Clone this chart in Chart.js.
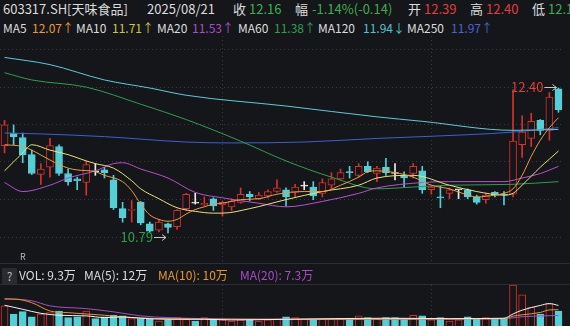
<!DOCTYPE html>
<html lang="zh-CN">
<head>
<meta charset="utf-8">
<title>603317.SH 天味食品 日K</title>
<script src="https://cdn.jsdelivr.net/npm/chart.js@4.4.1/dist/chart.umd.min.js"></script>
<style>
  html, body { margin: 0; padding: 0; background: #15161a; }
  body { width: 570px; height: 326px; overflow: hidden; position: relative;
         font-family: "Noto Sans CJK SC", "Noto Sans", sans-serif; color: #dcdcdc; }
  .t { position: absolute; white-space: nowrap; line-height: 16px; }
  .r1 { top: 1px; font-size: 13px; }
  .r2 { top: 20px; font-size: 12px; }
  .r3 { top: 267px; font-size: 12px; }
  .sep { position: absolute; left: 0; width: 570px; height: 1px; background: #2d2e33; }
  #help { position: absolute; left: 2px; top: 268px; width: 15px; height: 16px; background: #2a2b30;
          color: #b8b8b8; font-size: 12px; line-height: 16px; text-align: center; }
  #rMark { position: absolute; left: 20px; top: 252px; font-size: 9px; color: #b8b8b8; line-height: 10px; }
  canvas { position: absolute; left: 0; }
  #kCanvas { top: 36px; }
  #volCanvas { top: 285px; }
</style>
</head>
<body>
  <!-- 行情头部 -->
  <span class="t r1" style="left:3px">603317.SH[天味食品]</span>
  <span class="t r1" style="left:147px">2025/08/21</span>
  <span class="t r1" style="left:233px">收</span>
  <span class="t r1" style="left:249px;color:#35b24f">12.16</span>
  <span class="t r1" style="left:295px">幅</span>
  <span class="t r1" style="left:312px;color:#35b24f">-1.14%(-0.14)</span>
  <span class="t r1" style="left:408px">开</span>
  <span class="t r1" style="left:424px;color:#e23d3d">12.39</span>
  <span class="t r1" style="left:470px">高</span>
  <span class="t r1" style="left:486px;color:#e23d3d">12.40</span>
  <span class="t r1" style="left:532px">低</span>
  <span class="t r1" style="left:548px;color:#35b24f">12.13</span>

  <!-- 均线图例 -->
  <span class="t r2" style="left:3px">MA5</span>
  <span class="t r2" style="left:32px;color:#e99a36">12.07↑</span>
  <span class="t r2" style="left:76px">MA10</span>
  <span class="t r2" style="left:112px;color:#cfc640">11.71↑</span>
  <span class="t r2" style="left:157px">MA20</span>
  <span class="t r2" style="left:192px;color:#a850c4">11.53↑</span>
  <span class="t r2" style="left:238px">MA60</span>
  <span class="t r2" style="left:274px;color:#2fa04a">11.38↑</span>
  <span class="t r2" style="left:318px">MA120</span>
  <span class="t r2" style="left:363px;color:#4fc3cc">11.94↓</span>
  <span class="t r2" style="left:407px">MA250</span>
  <span class="t r2" style="left:451px;color:#4a64d0">11.97↑</span>

  <canvas id="kCanvas" width="570" height="227"></canvas>
  <div id="rMark">R</div>
  <div class="sep" style="top:263px"></div>

  <!-- 成交量图例 -->
  <div id="help">?</div>
  <span class="t r3" style="left:19px">VOL: 9.3万</span>
  <span class="t r3" style="left:84px">MA(5): 12万</span>
  <span class="t r3" style="left:158px;color:#e8962e">MA(10): 10万</span>
  <span class="t r3" style="left:240px;color:#a84cc8">MA(20): 7.3万</span>
  <div class="sep" style="top:284px"></div>

  <canvas id="volCanvas" width="570" height="46"></canvas>

<script>
// 交易日
const dates = [
  '05/27', '05/28', '05/29', '05/30',
  '06/03', '06/04', '06/05', '06/06', '06/09', '06/10', '06/11', '06/12', '06/13',
  '06/16', '06/17', '06/18', '06/19', '06/20', '06/23', '06/24', '06/25', '06/26', '06/27', '06/30',
  '07/01', '07/02', '07/03', '07/04', '07/07', '07/08', '07/09', '07/10', '07/11',
  '07/14', '07/15', '07/16', '07/17', '07/18', '07/21', '07/22', '07/23', '07/24', '07/25',
  '07/28', '07/29', '07/30', '07/31',
  '08/01', '08/04', '08/05', '08/06', '08/07', '08/08', '08/11', '08/12', '08/13', '08/14', '08/15',
  '08/18', '08/19', '08/20', '08/21'
];

// K线 开高低收
const opens = [
  11.76, 11.90, 11.85, 11.66, 11.44, 11.52, 11.75, 11.45, 11.39, 11.35,
  11.47, 11.49, 11.38, 11.06, 11.04, 11.13, 10.89, 10.82, 10.89, 10.86,
  11.06, 11.12, 11.10, 11.17, 11.10, 11.08, 11.13, 11.22, 11.17, 11.20,
  11.25, 11.27, 11.24, 11.31, 11.30, 11.23, 11.32, 11.39, 11.47, 11.43,
  11.53, 11.45, 11.52, 11.45, 11.43, 11.45, 11.48, 11.27, 11.19, 11.23,
  11.27, 11.27, 11.19, 11.16, 11.24, 11.22, 11.22, 11.77, 11.84, 12.04,
  11.93, 12.39
];
const highs = [
  12.04, 11.99, 11.90, 11.71, 11.56, 11.84, 11.77, 11.50, 11.41, 11.59,
  11.56, 11.52, 11.43, 11.13, 11.15, 11.14, 10.91, 10.94, 10.90, 11.05,
  11.23, 11.23, 11.19, 11.18, 11.14, 11.17, 11.29, 11.25, 11.24, 11.27,
  11.38, 11.29, 11.33, 11.36, 11.36, 11.39, 11.46, 11.50, 11.53, 11.56,
  11.58, 11.53, 11.62, 11.56, 11.47, 11.56, 11.53, 11.31, 11.31, 11.29,
  11.27, 11.28, 11.21, 11.23, 11.25, 11.25, 12.38, 12.09, 12.12, 12.05,
  12.35, 12.40
];
const lows = [
  11.68, 11.77, 11.57, 11.44, 11.33, 11.41, 11.43, 11.32, 11.27, 11.21,
  11.43, 11.40, 11.05, 10.91, 10.91, 10.88, 10.80, 10.80, 10.79, 10.83,
  11.04, 11.11, 11.09, 11.04, 10.98, 11.04, 11.12, 11.15, 11.16, 11.18,
  11.24, 11.09, 11.19, 11.27, 11.16, 11.19, 11.28, 11.38, 11.40, 11.41,
  11.46, 11.36, 11.43, 11.38, 11.30, 11.40, 11.23, 11.22, 11.07, 11.17,
  11.17, 11.17, 11.11, 11.12, 11.19, 11.10, 11.19, 11.63, 11.75, 11.88,
  11.82, 12.13
];
const closes = [
  11.99, 11.86, 11.66, 11.45, 11.50, 11.76, 11.45, 11.36, 11.37, 11.55,
  11.47, 11.46, 11.07, 10.96, 11.05, 10.90, 10.81, 10.91, 10.85, 11.04,
  11.22, 11.12, 11.12, 11.09, 11.13, 11.14, 11.22, 11.19, 11.21, 11.25,
  11.29, 11.19, 11.30, 11.31, 11.20, 11.35, 11.39, 11.46, 11.46, 11.53,
  11.47, 11.51, 11.46, 11.45, 11.40, 11.53, 11.27, 11.30, 11.18, 11.27,
  11.27, 11.19, 11.13, 11.21, 11.21, 11.21, 11.81, 11.91, 12.03, 11.93,
  12.30, 12.16
];

// 成交量（万手）
const volumes = [
  11.8, 7.9, 9.1, 6.6, 7.9, 8.6, 9.4, 6.3, 6.6, 9.4,
  5.8, 6.6, 7.5, 7.1, 5.8, 5.8, 5.8, 4.7, 5.2, 6.3,
  5.5, 4.7, 6.3, 5.2, 5.2, 4.7, 5.2, 5.2, 4.7, 5.2,
  5.5, 6.6, 6.3, 5.5, 5.5, 5.5, 5.5, 5.5, 5.5, 7.1,
  6.3, 5.5, 6.3, 6.3, 5.8, 7.4, 7.1, 5.2, 6.3, 4.7,
  5.2, 6.6, 5.5, 6.3, 5.5, 5.5, 21.6, 17.0, 11.2, 8.0,
  12.8, 9.3
];

// 均线读数 [交易日序号, 值]
const ma5Pts = [[0, 11.77], [2, 11.75], [3, 11.71], [5, 11.60], [7, 11.51], [8, 11.49], [10, 11.47],
  [11, 11.43], [13, 11.36], [14, 11.26], [15, 11.11], [16, 10.99], [17, 10.94], [18, 10.92],
  [19, 10.94], [20, 11.00], [21, 11.05], [22, 11.08], [23, 11.11], [24, 11.12], [26, 11.16],
  [28, 11.17], [30, 11.22], [33, 11.25], [35, 11.25], [37, 11.32], [39, 11.41], [40, 11.47],
  [41, 11.48], [43, 11.46], [45, 11.41], [47, 11.32], [49, 11.28], [51, 11.21], [52, 11.19],
  [54, 11.21], [55, 11.23], [56, 11.28], [57, 11.43], [58, 11.64], [59, 11.82], [60, 11.96], [61, 12.07]];
const ma10Pts = [[0, 11.48], [1, 11.58], [2, 11.68], [3, 11.77], [5, 11.71], [7, 11.66], [9, 11.59],
  [10, 11.56], [12, 11.51], [14, 11.37], [15, 11.28], [17, 11.17], [19, 11.07], [21, 11.03],
  [23, 11.01], [24, 11.01], [27, 11.06], [31, 11.16], [35, 11.25], [39, 11.32], [41, 11.40],
  [45, 11.43], [49, 11.32], [52, 11.25], [55, 11.21], [56, 11.23], [57, 11.32], [58, 11.42],
  [59, 11.52], [60, 11.61], [61, 11.70]];
const ma20Pts = [[0, 11.35], [2, 11.25], [5, 11.32], [7, 11.40], [10, 11.48], [12, 11.56], [13, 11.57],
  [15, 11.50], [18, 11.40], [21, 11.24], [24, 11.18], [28, 11.12], [31, 11.08], [35, 11.14],
  [39, 11.23], [41, 11.29], [46, 11.35], [49, 11.36], [55, 11.36], [57, 11.40], [59, 11.45], [61, 11.53]];
const ma60Pts = [[0, 12.57], [3, 12.49], [9, 12.41], [15, 12.22], [20, 12.05], [26, 11.81], [31, 11.59],
  [36, 11.41], [41, 11.28], [45, 11.30], [49, 11.32], [56, 11.33], [61, 11.36]];
const ma120Pts = [[0, 12.74], [5, 12.66], [11, 12.49], [16, 12.40], [20, 12.32], [31, 12.20], [41, 12.08],
  [46, 12.03], [56, 11.93], [61, 11.94]];
const ma250Pts = [[0, 11.90], [4, 11.89], [11, 11.86], [20, 11.80], [25, 11.79], [33, 11.80], [41, 11.84],
  [46, 11.86], [56, 11.91], [61, 11.96]];

// 成交量均线读数
const volMa5Pts = [[0, 12.1], [2, 10.2], [4, 8.3], [6, 7.4], [9, 7.1], [11, 6.3], [13, 6.6], [15, 6.0],
  [18, 5.5], [22, 5.5], [25, 5.2], [31, 5.5], [42, 6.0], [49, 5.8], [55, 6.0], [56, 8.0], [57, 9.8],
  [59, 12.0], [60, 12.9], [61, 12.0]];
const volMa10Pts = [[0, 15.0], [1, 15.0], [3, 13.3], [5, 9.4], [7, 8.6], [11, 7.4], [14, 6.3], [18, 5.8],
  [31, 5.5], [55, 5.7], [56, 7.0], [57, 7.6], [59, 8.7], [60, 9.9], [61, 10.0]];
const volMa20Pts = [[0, 15.2], [3, 14.2], [5, 11.8], [9, 10.5], [12, 9.0], [15, 7.1], [18, 6.3], [22, 5.8],
  [31, 5.5], [55, 5.8], [57, 6.7], [61, 7.3]];

// 坐标范围与网格
const priceRange = [10.456, 12.978];
const priceGrid = [12.83, 12.41, 11.99, 11.58, 11.16, 10.74];
const volRange = [0, 21.6];
const monthLines = ['07/01', '08/01'];

const BG = '#15161a';
const UP = '#d8302b';
const DOWN = '#53cfd6';
const FLAT = '#ececec';
const GRID = '#3b3c42';

const KChart = {
    init() {
        this.drawCandles();
        this.drawVolume();
    },

    // 涨跌颜色
    candleColor(i) {
        if (closes[i] > opens[i]) return UP;
        if (closes[i] < opens[i]) return DOWN;
        return FLAT;
    },

    volColor(i) {
        if (closes[i] > opens[i]) return UP;
        if (closes[i] < opens[i]) return DOWN;
        return i > 0 && closes[i] < closes[i - 1] ? DOWN : UP;
    },

    maLine(pts, color) {
        return {
            type: 'line',
            data: pts.map(([i, v]) => ({ x: dates[i], y: v })),
            borderColor: color,
            borderWidth: 1,
            pointRadius: 0,
            spanGaps: true,
            cubicInterpolationMode: 'monotone',
            order: 0
        };
    },

    xScale() {
        return {
            type: 'category',
            offset: true,
            ticks: { display: false, autoSkip: false },
            border: { display: false, dash: [1, 3] },
            grid: {
                offset: false,
                drawTicks: false,
                color: (c) => monthLines.includes(dates[c.index]) ? GRID : 'rgba(0,0,0,0)'
            }
        };
    },

    baseOptions() {
        return {
            responsive: false,
            animation: false,
            events: [],
            layout: { padding: { left: 0, right: 7, top: 0, bottom: 0 } },
            plugins: { legend: { display: false }, tooltip: { enabled: false } }
        };
    },

    // 最高/最低价标注
    extremeLabels: {
        id: 'extremeLabels',
        afterDatasetsDraw(chart) {
            const { ctx, scales: { x, y } } = chart;
            const hi = highs.indexOf(Math.max(...highs));
            const lo = lows.indexOf(Math.min(...lows));
            const tag = (idx, value, dy, color) => {
                const cx = x.getPixelForValue(idx);
                const cy = Math.round(y.getPixelForValue(value) + dy) + 0.5;
                ctx.fillStyle = color;
                ctx.textAlign = 'right';
                ctx.textBaseline = 'middle';
                ctx.fillText(value.toFixed(2), cx - 15, cy);
                ctx.strokeStyle = '#c8c8c8';
                ctx.lineWidth = 1;
                ctx.beginPath();
                ctx.moveTo(cx - 14, cy);
                ctx.lineTo(cx - 2, cy);
                ctx.moveTo(cx - 6, cy - 3);
                ctx.lineTo(cx - 2, cy);
                ctx.lineTo(cx - 6, cy + 3);
                ctx.stroke();
            };
            ctx.save();
            ctx.font = '13px "Noto Sans CJK SC", sans-serif';
            tag(hi, highs[hi], -1, '#e23d3d');
            tag(lo, lows[lo], 4, '#2fa04a');
            ctx.restore();
        }
    },

    drawCandles() {
        const colors = dates.map((d, i) => this.candleColor(i));
        const bodyFill = dates.map((d, i) => closes[i] > opens[i] ? BG : colors[i]);

        new Chart(document.getElementById('kCanvas'), {
            type: 'bar',
            data: {
                labels: dates,
                datasets: [
                    this.maLine(ma5Pts, '#ee9c3a'),
                    this.maLine(ma10Pts, '#e9e27a'),
                    this.maLine(ma20Pts, '#b652cf'),
                    this.maLine(ma60Pts, '#2e9e4e'),
                    this.maLine(ma120Pts, '#5ccbdc'),
                    this.maLine(ma250Pts, '#3d5fd6'),
                    {
                        // 实体
                        data: dates.map((d, i) => [opens[i], closes[i]]),
                        backgroundColor: bodyFill,
                        borderColor: colors,
                        borderWidth: 1,
                        borderSkipped: false,
                        barThickness: 7,
                        minBarLength: 1,
                        grouped: false,
                        order: 1
                    },
                    {
                        // 影线
                        data: dates.map((d, i) => [lows[i], highs[i]]),
                        backgroundColor: colors,
                        borderWidth: 0,
                        barThickness: 1,
                        grouped: false,
                        order: 2
                    }
                ]
            },
            options: {
                ...this.baseOptions(),
                scales: {
                    x: this.xScale(),
                    y: {
                        type: 'linear',
                        min: priceRange[0],
                        max: priceRange[1],
                        afterBuildTicks: (scale) => { scale.ticks = priceGrid.map(v => ({ value: v })); },
                        ticks: { display: false },
                        border: { display: false, dash: [1, 3] },
                        grid: { drawTicks: false, color: GRID }
                    }
                }
            },
            plugins: [this.extremeLabels]
        });
    },

    drawVolume() {
        const colors = dates.map((d, i) => this.volColor(i));
        const fill = colors.map(c => c === UP ? BG : c);

        new Chart(document.getElementById('volCanvas'), {
            type: 'bar',
            data: {
                labels: dates,
                datasets: [
                    this.maLine(volMa5Pts, '#f2f2f2'),
                    this.maLine(volMa10Pts, '#e8962e'),
                    this.maLine(volMa20Pts, '#a84cc8'),
                    {
                        data: volumes,
                        backgroundColor: fill,
                        borderColor: colors,
                        borderWidth: 1,
                        borderSkipped: false,
                        barThickness: 7,
                        order: 1
                    }
                ]
            },
            options: {
                ...this.baseOptions(),
                scales: {
                    x: this.xScale(),
                    y: {
                        type: 'linear',
                        min: volRange[0],
                        max: volRange[1],
                        display: false
                    }
                }
            }
        });
    }
};

KChart.init();
</script>
</body>
</html>
